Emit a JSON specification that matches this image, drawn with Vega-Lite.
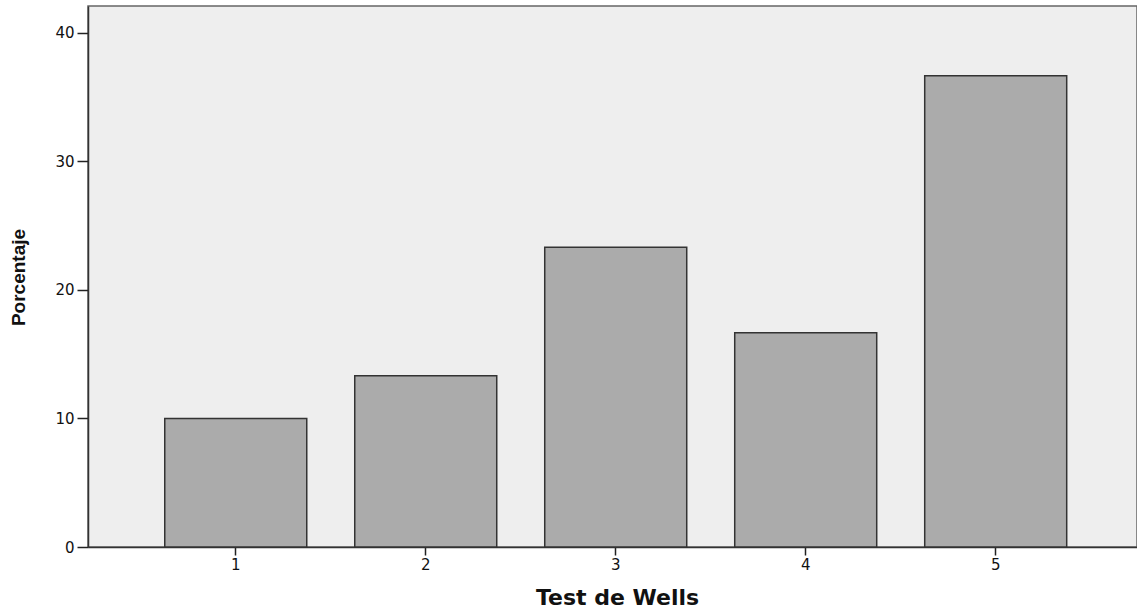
{
  "$schema": "https://vega.github.io/schema/vega-lite/v6.json",
  "autosize": {"type": "none"},
  "padding": {"left": 88, "top": 6, "right": 0, "bottom": 61},
  "width": 1049,
  "height": 541,
  "background": "#ffffff",
  "config": {
    "view": {"fill": "#eeeeee", "stroke": "#666666", "strokeWidth": 1.5},
    "axis": {
      "domainColor": "#333333",
      "domainWidth": 1.5,
      "tickColor": "#222222",
      "tickWidth": 1.5,
      "labelFont": "DejaVu Sans",
      "labelFontSize": 15,
      "labelColor": "#111111",
      "grid": false
    }
  },
  "data": {
    "values": [
      {"wells": "1", "pct": 10.0},
      {"wells": "2", "pct": 13.33},
      {"wells": "3", "pct": 23.33},
      {"wells": "4", "pct": 16.67},
      {"wells": "5", "pct": 36.67}
    ]
  },
  "mark": {"type": "bar", "fill": "#ababab", "stroke": "#333333", "strokeWidth": 1.5},
  "encoding": {
    "x": {
      "field": "wells",
      "type": "ordinal",
      "scale": {"paddingInner": 0.2526, "paddingOuter": 0.387, "align": 0.522},
      "axis": {
        "title": "Test de Wells",
        "titleFont": "DejaVu Sans",
        "titleFontWeight": "bold",
        "titleFontSize": 22,
        "titleColor": "#111111",
        "titleX": 529,
        "titleY": 57,
        "titleBaseline": "alphabetic",
        "titleAlign": "center",
        "labelAngle": 0,
        "tickSize": 8,
        "labelPadding": 2
      }
    },
    "y": {
      "field": "pct",
      "type": "quantitative",
      "scale": {"domain": [0, 42.1], "nice": false},
      "axis": {
        "title": "Porcentaje",
        "titleFont": "Liberation Sans",
        "titleFontWeight": "bold",
        "titleFontSize": 19,
        "titleColor": "#111111",
        "titleAngle": -90,
        "titleX": -69.5,
        "titleY": 271,
        "titleAlign": "center",
        "titleBaseline": "middle",
        "values": [0, 10, 20, 30, 40],
        "tickSize": 11,
        "labelPadding": 3
      }
    }
  }
}
